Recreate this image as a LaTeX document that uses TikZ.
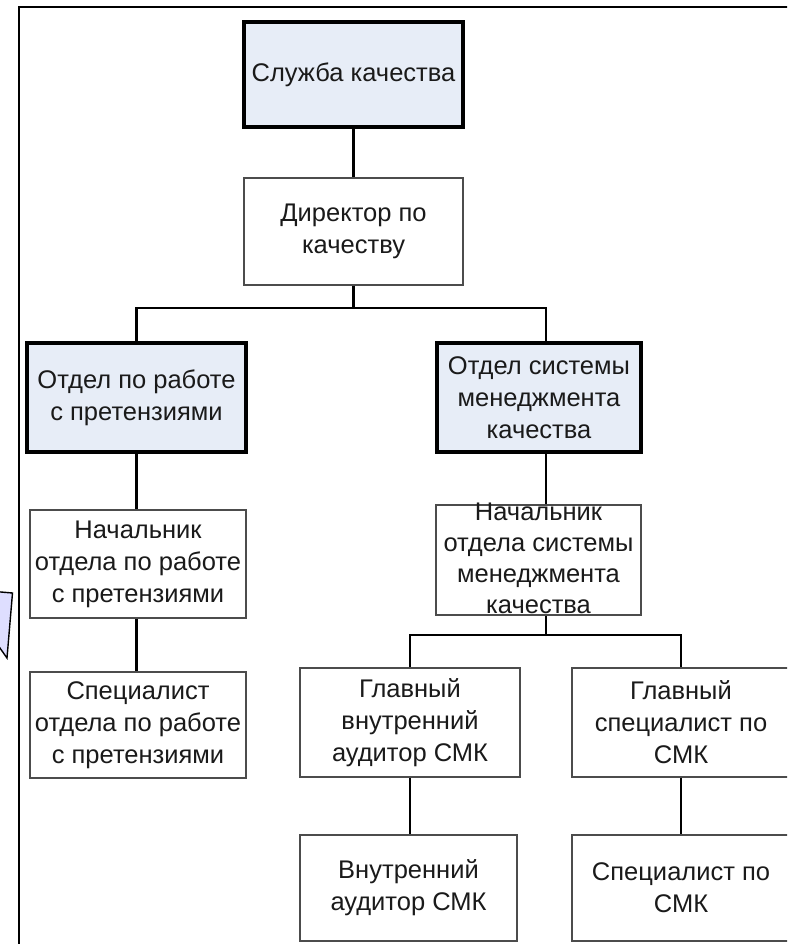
\documentclass[tikz,border=0pt]{standalone}
\usepackage{fontspec}
\setmainfont{Liberation Sans}
\definecolor{boxfill}{RGB}{231,237,247}
\definecolor{calloutfill}{RGB}{222,222,255}
\definecolor{ink}{RGB}{26,26,26}
\begin{document}
\begin{tikzpicture}[x=1pt,y=-1pt,
  unit/.style={draw=black!70, line width=1.2pt, fill=white, inner sep=0pt,
               align=center, text=ink, font=\fontsize{25.5}{32}\selectfont},
  dept/.style={unit, draw=black, line width=3.2pt, fill=boxfill},
  link/.style={draw=black, line width=2.6pt},
  bw/.style={minimum width=#1},
  bh/.style={minimum height=#1}]
\useasboundingbox (0,0) rectangle (787,944);
\clip (0,0) rectangle (787,944);

% outer frame
\coordinate (frameBL) at (19,960);
\coordinate (frameTL) at (19,7);
\coordinate (frameTR) at (800,7);
\draw[line width=2.6pt] (frameBL) -- (frameTL) -- (frameTR);

% callout piece at the left margin
\draw[fill=calloutfill, line width=1.4pt, line join=miter]
  (-5,591.5) -- (12.5,593) -- (7,658) -- (-5,641);

% units
\node[dept, bw=219pt, bh=105pt] (service) at (353.5,74.5) {Служба качества};
\node[unit, bw=219pt, bh=107pt] (director) at (353.5,231.5) {Директор по\\качеству};

\coordinate (bus1) at (0,308);
\coordinate (qmsdrop) at (546,0);
\node[dept, bw=219pt, bh=109pt] (claims) at (136.5,397.5) {Отдел по работе\\с претензиями};
\node[dept, bw=204pt, bh=109pt] (qms) at (539,397.5) {Отдел системы\\менеджмента\\качества};

\node[unit, bw=216pt, bh=108pt] (claimshead) at (138,564) {Начальник\\отдела по работе\\с претензиями};
\node[unit, bw=216pt, bh=106pt] (claimsspec) at (138,725) {Специалист\\отдела по работе\\с претензиями};

\node[unit, bw=205pt, bh=110pt] (qmshead) at (538.5,560) {};
\node[align=center, inner sep=0pt, text=ink, font=\fontsize{25.5}{31}\selectfont]
  (qmsheadtext) at (538.5,558) {Начальник\\отдела системы\\менеджмента\\качества};

\coordinate (bus2) at (0,635);
\node[unit, bw=220pt, bh=109pt] (chiefaud) at (410,722.5) {Главный\\внутренний\\аудитор СМК};
\node[unit, bw=218pt, bh=109pt] (chiefspec) at (681,722.5) {Главный\\специалист по\\СМК};
\node[unit, bw=217pt, bh=106pt] (auditor) at (408.5,888) {Внутренний\\аудитор СМК};
\node[unit, bw=218pt, bh=106pt] (spec) at (681,888) {Специалист по\\СМК};

% connectors
\draw[link] (service.south) -- (director.north);
\draw[link] (director.south) -- (director.south |- bus1);
\draw[link] (claims.north) -- (claims.north |- bus1) -- (qmsdrop |- bus1) -- (qmsdrop |- qms.north);
\draw[link] (claims.south) -- (claimshead.north -| claims.south);
\draw[link] (claimshead.south -| claims.south) -- (claimsspec.north -| claims.south);
\draw[link] (qmsdrop |- qms.south) -- (qmsdrop |- qmshead.north);
\draw[link] (qmsdrop |- qmshead.south) -- (qmsdrop |- bus2);
\draw[link] (chiefaud.north) -- (chiefaud.north |- bus2) -- (chiefspec.north |- bus2) -- (chiefspec.north);
\draw[link] (chiefaud.south) -- (auditor.north -| chiefaud.south);
\draw[link] (chiefspec.south) -- (spec.north);
\end{tikzpicture}
\end{document}
